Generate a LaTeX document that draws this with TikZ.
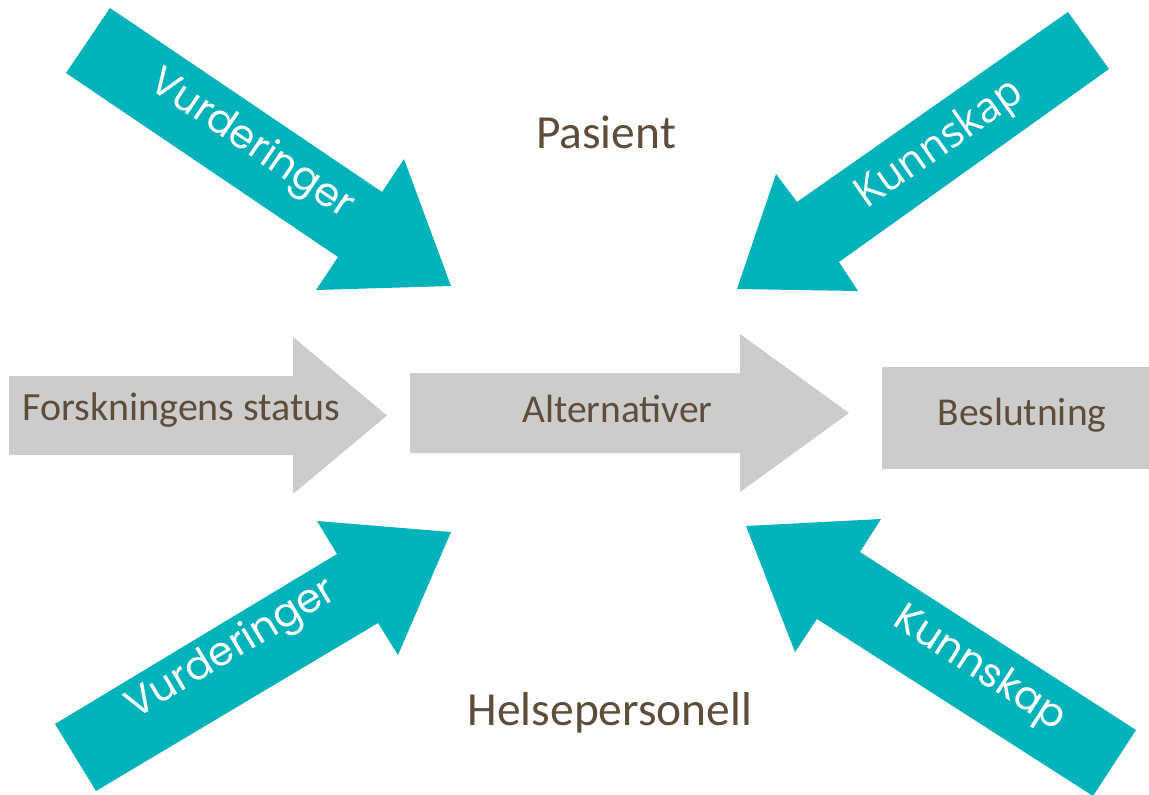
\documentclass[tikz,border=0pt]{standalone}
\usepackage{fontspec}
\setmainfont{Carlito}
\newfontfamily\popfont{Poppins}
\newfontfamily\opfont{Open Sans}
\definecolor{teal1}{RGB}{0,178,185}
\definecolor{gray1}{RGB}{204,204,204}
\definecolor{brown1}{RGB}{94,77,59}
\tikzset{
  tealarrow/.style={fill=teal1, draw=none},
  grayshape/.style={fill=gray1, draw=none},
  browntext/.style={text=brown1, inner sep=0pt, anchor=base},
  whitetext/.style={text=white, inner sep=0pt, anchor=center},
}
\begin{document}
\begin{tikzpicture}[x=1pt,y=-1pt]
\useasboundingbox (0,0) rectangle (1149,795);
\clip (0,0) rectangle (1149,795);
% teal arrows
\fill[tealarrow] (110,8) -- (382,192) -- (404,159) -- (451,286) -- (316,290) -- (338,257) -- (66,73) -- cycle;
\fill[tealarrow] (1068,12) -- (1109,69) -- (839,262) -- (858,291) -- (737,289) -- (776,174) -- (797,202) -- cycle;
\fill[tealarrow] (55,724) -- (337,554) -- (317,521) -- (451,532) -- (398,655) -- (378,623) -- (96,791) -- cycle;
\fill[tealarrow] (746,526) -- (881,519) -- (860,552) -- (1136,730) -- (1093,796) -- (817,619) -- (795,652) -- cycle;
% gray arrows and box
\fill[grayshape] (9,376) -- (293,376) -- (293,337) -- (387,415.5) -- (293,494) -- (293,455) -- (9,455) -- cycle;
\fill[grayshape] (410,373) -- (740,373) -- (740,334) -- (849,413) -- (740,492) -- (740,453) -- (410,453) -- cycle;
\fill[grayshape] (882,367) rectangle (1149,469);
% texts
\node[browntext, font=\fontsize{47.5}{50}\selectfont] (pas) at (606,148) {Pasient};
\node[browntext, font=\fontsize{47.5}{50}\selectfont] (hel) at (610,725) {Helsepersonell};
\node[browntext, font=\fontsize{40}{44}\selectfont] (fors) at (181.5,420) {Forskningens status};
\node[browntext, font=\fontsize{39.5}{44}\selectfont] (alt) at (617.5,422) {Alternativer};
\node[browntext, font=\fontsize{39.5}{44}\selectfont] (bes) at (1022,425) {Beslutning};
\node[whitetext, rotate=-34, font=\popfont\fontsize{40}{42}\selectfont] (v1) at (251,145) {Vurderinger};
\node[whitetext, rotate=31, font=\popfont\fontsize{40}{42}\selectfont] (v2) at (232,650) {Vurderinger};
\node[whitetext, rotate=35, font=\opfont\fontsize{42}{44}\selectfont] (k1) at (940,145) {Kunnskap};
\node[whitetext, rotate=-32.8, font=\popfont\fontsize{40}{42}\selectfont] (k2) at (979,670) {Kunnskap};
\end{tikzpicture}
\end{document}
